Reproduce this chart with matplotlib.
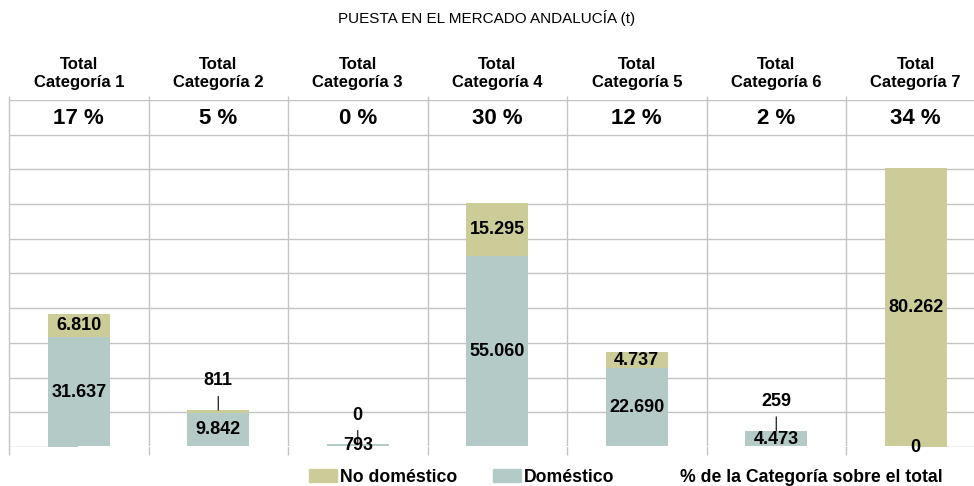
import matplotlib.pyplot as plt
import numpy as np
from matplotlib.patches import Patch
from matplotlib.lines import Line2D

plt.rcParams['font.family'] = ['Liberation Sans', 'DejaVu Sans']

# datos (t)
categorias = ['Total\nCategoría 1', 'Total\nCategoría 2', 'Total\nCategoría 3', 'Total\nCategoría 4',
              'Total\nCategoría 5', 'Total\nCategoría 6', 'Total\nCategoría 7']
domestico = [31637, 9842, 793, 55060, 22690, 4473, 0]
no_domestico = [6810, 811, 0, 15295, 4737, 259, 80262]
porcentaje = [17, 5, 0, 30, 12, 2, 34]

color_nd = '#cccc99'
color_d = '#b3cac6'
color_grid = '#c4c4c4'


def fmt(v):
    return f'{v:,}'.replace(',', '.')


fig = plt.figure(figsize=(9.74, 4.86), dpi=100)
ax = fig.add_axes([9 / 974, 1 - 447 / 486, 976.5 / 974, 347 / 486])

x = np.arange(len(categorias))
width = 0.445

ax.bar(x, domestico, width, color=color_d, zorder=2)
ax.bar(x, no_domestico, width, bottom=domestico, color=color_nd, zorder=2)

# serie de porcentaje (linea blanca en 0)
ax.plot(x, [0] * len(x), color='white', lw=1.5, zorder=3)

ax.set_xlim(-0.5, 6.5)
ax.set_ylim(0, 100000)

# rejilla horizontal
for yv in np.arange(0, 100001, 10000):
    ax.axhline(yv, color=color_grid, lw=1, zorder=1)
# separadores verticales
ax.vlines(np.arange(-0.5, 7, 1), -0.023, 1.012, transform=ax.get_xaxis_transform(),
          color=color_grid, lw=1, clip_on=False, zorder=1)

for s in ax.spines.values():
    s.set_visible(False)
ax.set_xticks([])
ax.set_yticks([])

# etiquetas de datos
for i in range(len(x)):
    d = domestico[i]
    nd = no_domestico[i]
    ax.text(x[i], d / 2, fmt(d), ha='center', va='center', fontsize=13,
            fontweight='bold', zorder=4)
    if nd < 3000:
        ax.annotate(fmt(nd), xy=(x[i], d + nd), xytext=(0, 21), textcoords='offset points',
                    ha='center', va='center', fontsize=13, fontweight='bold',
                    arrowprops=dict(arrowstyle='-', color='black', lw=0.8, shrinkA=3, shrinkB=0),
                    zorder=4)
    else:
        ax.text(x[i], d + nd / 2, fmt(nd), ha='center', va='center', fontsize=13,
                fontweight='bold', zorder=4)
    ax.text(x[i], 94800, f'{porcentaje[i]} %', ha='center', va='center', fontsize=16,
            fontweight='bold', zorder=4)
    ax.text(x[i], 1.075, categorias[i], transform=ax.get_xaxis_transform(), ha='center',
            va='center', fontsize=12, fontweight='bold', linespacing=1.25)

fig.text(0.5, 1 - 18 / 486, 'PUESTA EN EL MERCADO ANDALUCÍA (t)', ha='center', va='center',
         fontsize=11)

handles = [Patch(color=color_nd), Patch(color=color_d), Line2D([], [], color='white', lw=1.5)]
labels = ['No doméstico', 'Doméstico', '% de la Categoría sobre el total']
fig.legend(handles, labels, loc='center', bbox_to_anchor=(626 / 974, 1 - 477 / 486), ncol=3,
           frameon=False, prop={'weight': 'bold', 'size': 12.7}, handlelength=1.6,
           handletextpad=0.15, columnspacing=2.0, borderpad=0)

fig.savefig('out.png', dpi=100, facecolor='white')
